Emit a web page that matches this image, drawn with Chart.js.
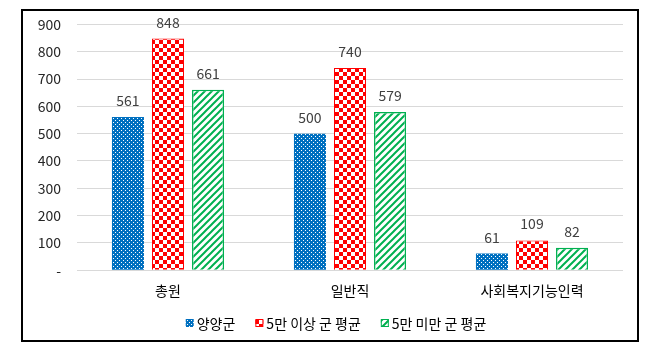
<!DOCTYPE html>
<html><head><meta charset="utf-8">
<script src="https://cdn.jsdelivr.net/npm/chart.js@4.4.0/dist/chart.umd.min.js"></script>
<style>
html,body{margin:0;padding:0;background:#fff;width:660px;height:351px;overflow:hidden}
#frame{position:absolute;left:21px;top:9px;width:614px;height:329px;border:2px solid #000;}
#wrap{position:absolute;left:0;top:-11px;width:614px;height:340px;}
</style></head>
<body>
<div id="frame"><div id="wrap"><canvas id="c" width="614" height="340"></canvas></div></div>
<script>
const categories = ['총원', '일반직', '사회복지기능인력'];
const seriesNames = ['양양군', '5만 이상 군 평균', '5만 미만 군 평균'];
const yangyang = [561, 500, 61];
const over50k = [848, 740, 109];
const under50k = [661, 579, 82];
const yTicks = [0, 100, 200, 300, 400, 500, 600, 700, 800, 900];

const FONT = '"Noto Sans CJK KR", sans-serif';
function mk(w, h, draw) {
  const c = document.createElement('canvas'); c.width = w; c.height = h;
  const x = c.getContext('2d'); draw(x, w, h);
  return document.getElementById('c').getContext('2d').createPattern(c, 'repeat');
}
const blueP = mk(4, 4, (x) => { x.fillStyle = '#0070C0'; x.fillRect(0,0,4,4); x.fillStyle = '#fff'; x.fillRect(0,0,1,1); x.fillRect(2,2,1,1); });
const redP = mk(8, 8, (x) => { x.fillStyle = '#fff'; x.fillRect(0,0,8,8); x.fillStyle = '#FF0000'; x.fillRect(0,0,4,4); x.fillRect(4,4,4,4); });
const greenP = mk(7, 7, (x) => { x.fillStyle = '#fff'; x.fillRect(0,0,7,7); x.strokeStyle = '#00B050'; x.lineWidth = 2;
  x.beginPath(); x.moveTo(-1,8); x.lineTo(8,-1); x.moveTo(-4,4); x.lineTo(4,-4); x.moveTo(3,11); x.lineTo(11,3); x.stroke(); });

const labelPlugin = {
  id: 'vals',
  afterDatasetsDraw(chart) {
    const ctx = chart.ctx;
    ctx.save();
    ctx.font = '14px ' + FONT;
    ctx.fillStyle = '#404040';
    ctx.textAlign = 'center';
    ctx.textBaseline = 'alphabetic';
    chart.data.datasets.forEach((ds, i) => {
      chart.getDatasetMeta(i).data.forEach((el, j) => {
        ctx.fillText(String(ds.data[j]), el.x, el.y - 11);
      });
    });
    ctx.restore();
  }
};

const legendPlugin = {
  id: 'customLegend',
  afterDraw(chart) {
    const ctx = chart.ctx;
    ctx.save();
    ctx.font = '14px ' + FONT;
    const box = 8, gapBox = 3, gapItem = 20;
    const items = chart.data.datasets.map(ds => ({ ds, w: box + gapBox + ctx.measureText(ds.label).width }));
    const total = items.reduce((a, b) => a + b.w, 0) + gapItem * (items.length - 1);
    let x = chart.width / 2 - total / 2 + 6;
    const cy = chart.height - 17;
    ctx.textBaseline = 'middle';
    ctx.textAlign = 'left';
    items.forEach(it => {
      ctx.fillStyle = it.ds.backgroundColor;
      ctx.fillRect(x, cy - box / 2, box, box);
      if (it.ds.borderWidth) { ctx.strokeStyle = it.ds.borderColor; ctx.lineWidth = 1; ctx.strokeRect(x + 0.5, cy - box / 2 + 0.5, box - 1, box - 1); }
      ctx.fillStyle = '#000';
      ctx.fillText(it.ds.label, x + box + gapBox, cy + 1);
      x += it.w + gapItem;
    });
    ctx.restore();
  }
};

new Chart(document.getElementById('c'), {
  type: 'bar',
  data: {
    labels: categories,
    datasets: [
      { label: seriesNames[0], data: yangyang, backgroundColor: blueP, borderColor: '#0070C0', borderWidth: 0 },
      { label: seriesNames[1], data: over50k, backgroundColor: redP, borderColor: '#FF0000', borderWidth: 1 },
      { label: seriesNames[2], data: under50k, backgroundColor: greenP, borderColor: '#00B050', borderWidth: 1.5 }
    ]
  },
  options: {
    responsive: false,
    animation: false,
    devicePixelRatio: 1,
    layout: { padding: { left: 0, right: 14, top: 0, bottom: 37 } },
    datasets: { bar: { barPercentage: 0.8, categoryPercentage: 0.66 } },
    plugins: {
      legend: { display: false },
      tooltip: { enabled: false }
    },
    scales: {
      x: {
        grid: { display: false },
        border: { display: false },
        ticks: { color: '#000', font: { size: 14, family: FONT }, padding: 4 }
      },
      y: {
        min: 0, max: 900,
        afterBuildTicks(s) { s.ticks = yTicks.map(v => ({ value: v })); },
        afterFit(s) { s.width = 54; },
        grid: { color: '#d9d9d9', drawTicks: false },
        border: { display: false },
        ticks: {
          color: '#262626', padding: 16,
          font: { size: 14, family: FONT },
          callback: (v) => v === 0 ? '-' : String(v)
        }
      }
    }
  },
  plugins: [labelPlugin, legendPlugin]
});
</script>
</body></html>
